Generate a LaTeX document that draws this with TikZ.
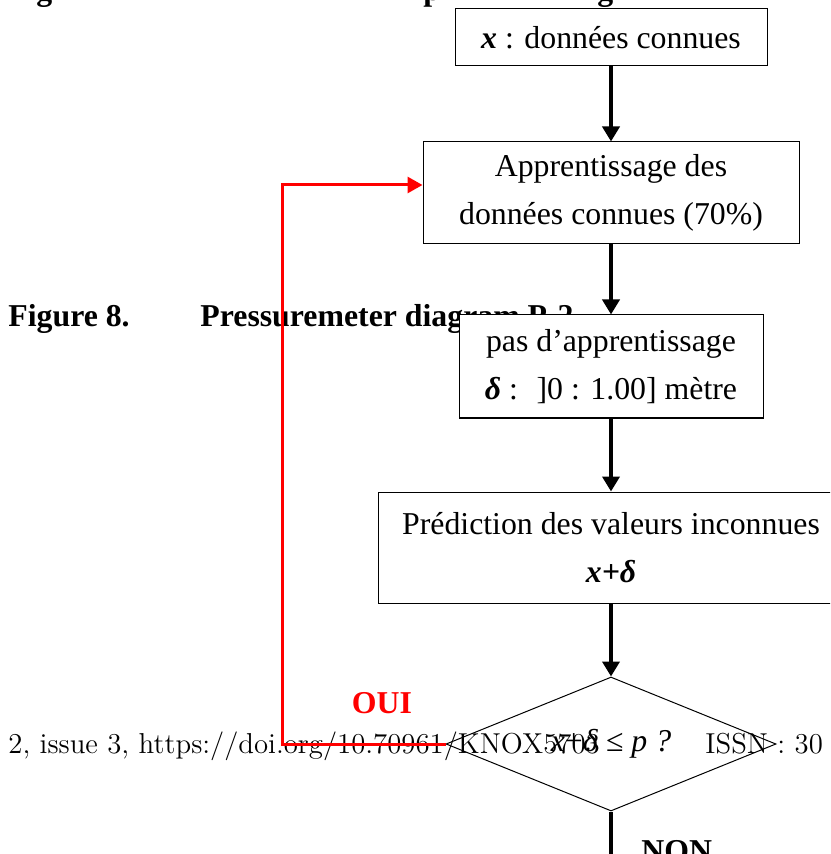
\documentclass[tikz,border=0pt]{standalone}
\usepackage{fontspec}
\newfontfamily\timesfont{Liberation Serif}
\usetikzlibrary{positioning, arrows.meta, shapes.geometric}

\begin{document}
\begin{tikzpicture}[x=0.5pt, y=-0.5pt,
    stepbox/.style={draw, rectangle, fill=white, line width=0.5pt, align=center, inner sep=0pt,
        font=\timesfont\fontsize{15.9pt}{24pt}\selectfont},
    flowarrow/.style={line width=2pt, -{Triangle[length=7.5pt, width=8.5pt]}},
    feedback/.style={line width=1.5pt, color=red, -{Triangle[length=7.5pt, width=8pt]}},
    pagetext/.style={anchor=base west, inner sep=0pt, font=\timesfont\bfseries\fontsize{15.9pt}{19pt}\selectfont},
    footline/.style={anchor=base west, inner sep=0pt, font=\fontsize{14.4pt}{17pt}\selectfont}]
    \useasboundingbox (0,0) rectangle (830,854);
    \clip (0,0) rectangle (830,854);

    % Page text lying under the chart (cut by the page frame)
    \node[pagetext] (frag1) at (36,1) {g};
    \node[pagetext] (frag2) at (423,1) {p};
    \node[pagetext] (frag3) at (597,1) {g};
    \node[pagetext] (figlabel) at (8,327) {Figure 8.};
    \node[pagetext] (figtitle) at (200,327) {Pressuremeter diagram P-2};
    \node[footline] (doiline) at (8,753) {2, issue 3, https://doi.org/10.70961/KNOX5703};
    \node[footline] (issn) at (705,753) {ISSN : 30};

    % Flow chart: known data -> learning -> step -> prediction -> test
    \node[stepbox, minimum width=156pt, minimum height=28.5pt] (rect1) at (611,37.5)
        {\textbf{\textit{x}} : données connues};
    \node[stepbox, minimum width=188pt, minimum height=51pt, below=37.5pt of rect1] (rect2)
        {Apprentissage des\\données connues (70\%)};
    \node[stepbox, minimum width=152pt, minimum height=51.5pt, below=35pt of rect2] (rect3)
        {pas d’apprentissage\\\textbf{\textit{δ}} :~ ]0 : 1.00] mètre};
    \node[stepbox, minimum width=233pt, minimum height=55.5pt, below=36.5pt of rect3] (rect4)
        {Prédiction des valeurs inconnues\\\textbf{\textit{x+δ}}};
    \node[draw, diamond, aspect=2.46, line width=0.5pt, minimum width=165pt, minimum height=67pt,
          inner sep=0pt, font=\timesfont\fontsize{15.9pt}{19pt}\selectfont, below=36.5pt of rect4] (test)
        {\textit{x}+\textit{δ} ≤ \textit{p ?}};

    % Vertical arrows between the steps
    \draw[flowarrow] (rect1) -- (rect2);
    \draw[flowarrow] (rect2) -- (rect3);
    \draw[flowarrow] (rect3) -- (rect4);
    \draw[flowarrow] (rect4) -- (test);

    % NON: leaves the page downwards
    \coordinate (exit) at ([yshift=-40pt] test.south);
    \draw[line width=2pt] (test.south) -- (exit);
    \node[pagetext] (non) at ([xshift=15pt, yshift=-25pt] test.south) {NON};

    % OUI: red loop back to the learning box
    \coordinate (turn) at ([xshift=-81.5pt] test.west);
    \draw[feedback] (test.west) -- (turn) |- ([yshift=4pt] rect2.west);
    \node[pagetext, text=red] (oui) at ([xshift=-47pt, yshift=15.5pt] test.west) {OUI};
\end{tikzpicture}
\end{document}
